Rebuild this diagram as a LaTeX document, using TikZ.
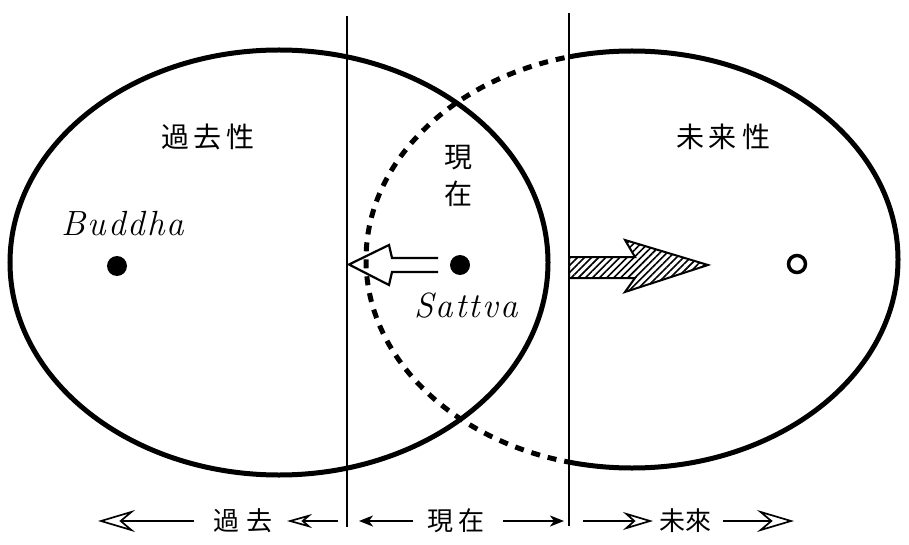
\documentclass[tikz,border=0pt]{standalone}
\usepackage{fontspec}
\newfontfamily\jp{Noto Sans CJK JP}
\newfontfamily\handfam[LetterSpace=6]{Latin Modern Roman}
\usetikzlibrary{arrows.meta,patterns.meta}
\begin{document}
\begin{tikzpicture}[x=1pt,y=-1pt,
  ring/.style={line width=5pt},
  dashring/.style={line width=5pt,dash pattern=on 9pt off 8pt},
  divider/.style={line width=2.5pt},
  dotnode/.style={circle,fill=black,inner sep=0pt,minimum size=20pt},
  hollowdot/.style={circle,draw=black,line width=3.5pt,inner sep=0pt,minimum size=17pt},
  bigjp/.style={font=\jp\fontsize{28}{37}\selectfont,inner sep=0pt,align=center},
  smalljp/.style={font=\jp\fontsize{26}{28}\selectfont,inner sep=0pt},
  hand/.style={font=\handfam\itshape\fontsize{35}{37}\selectfont,inner sep=0pt},
  timeline/.style={line width=1.7pt},
  openbig/.style={-{Stealth[open,length=37pt,width=22pt,inset=13pt]}},
  openmid/.style={-{Stealth[open,length=30pt,width=18pt,inset=10pt]}},
  opensmall/.style={-{Stealth[open,length=25pt,width=14pt,inset=8pt]}},
  solidtip/.style={-{Stealth[length=14pt,width=11pt,inset=4pt]}},
]
\useasboundingbox (0,0) rectangle (909,545);

% left ellipse (past)
\draw[ring] (279,262.5) ellipse [x radius=269pt, y radius=212.5pt];

% right ellipse (future): solid right part, dashed left part
\begin{scope}
  \clip (569,0) rectangle (909,545);
  \draw[ring] (632,259.5) ellipse [x radius=266pt, y radius=208.5pt];
\end{scope}
\begin{scope}
  \clip (300,0) rectangle (569,545);
  \draw[dashring] (632,259.5) ellipse [x radius=266pt, y radius=208.5pt];
\end{scope}

% dividers
\coordinate (d1top) at (347,16);
\coordinate (d1bot) at (347,527);
\coordinate (d2top) at (569,13);
\coordinate (d2bot) at (569,526);
\draw[divider] (d1top) -- (d1bot);
\draw[divider] (d2top) -- (d2bot);

% labels
\node[bigjp] (pastlbl) at (208,137) {過\hspace{5pt}去\hspace{5pt}性};
\node[bigjp] (futlbl) at (723,137) {未\hspace{5pt}来\hspace{5pt}性};
\node[bigjp] (preslbl) at (458,176) {現\\在};
\node[hand] (buddhalbl) at (123,224) {Buddha};
\node[hand] (sattvalbl) at (466,306) {Sattva};

% dots
\node[dotnode] (buddha) at (117,266) {};
\node[dotnode] (sattva) at (460,265) {};
\node[hollowdot] (future) at (797,264) {};

% hollow arrow toward the past
\draw[line width=2.2pt,line join=miter]
  (438,258) -- (392,258) -- (389,245) -- (349,264.5) -- (389,285) -- (392,272) -- (438,272);

% hatched arrow toward the future
\draw[line width=2pt,line join=miter,
      pattern={Lines[angle=45,distance=5pt,line width=1.6pt]}]
  (569,257) -- (635,257) -- (625,240) -- (708,265) -- (625,292) -- (635,278) -- (569,278) -- cycle;

% bottom time line
\coordinate (a1s) at (194,521);
\coordinate (a1e) at (98,521);
\coordinate (a2s) at (338,521);
\coordinate (a2e) at (287,521);
\coordinate (a3s) at (413,521);
\coordinate (a3e) at (359,521);
\coordinate (a4s) at (503,521);
\coordinate (a4e) at (564,521);
\coordinate (a5s) at (583,521);
\coordinate (a5e) at (653,521);
\coordinate (a6s) at (723,521);
\coordinate (a6e) at (794,521);
\draw[timeline,openbig] (a1s) -- (a1e);
\draw[timeline,opensmall] (a2s) -- (a2e);
\draw[timeline,solidtip] (a3s) -- (a3e);
\draw[timeline,solidtip] (a4s) -- (a4e);
\draw[timeline,openmid] (a5s) -- (a5e);
\draw[timeline,openbig] (a6s) -- (a6e);

\node[smalljp] (pastw) at (243,521) {過\hspace{8pt}去};
\node[smalljp] (presw) at (456,521) {現\hspace{6pt}在};
\node[smalljp] (futw) at (685,521) {未來};
\end{tikzpicture}
\end{document}
